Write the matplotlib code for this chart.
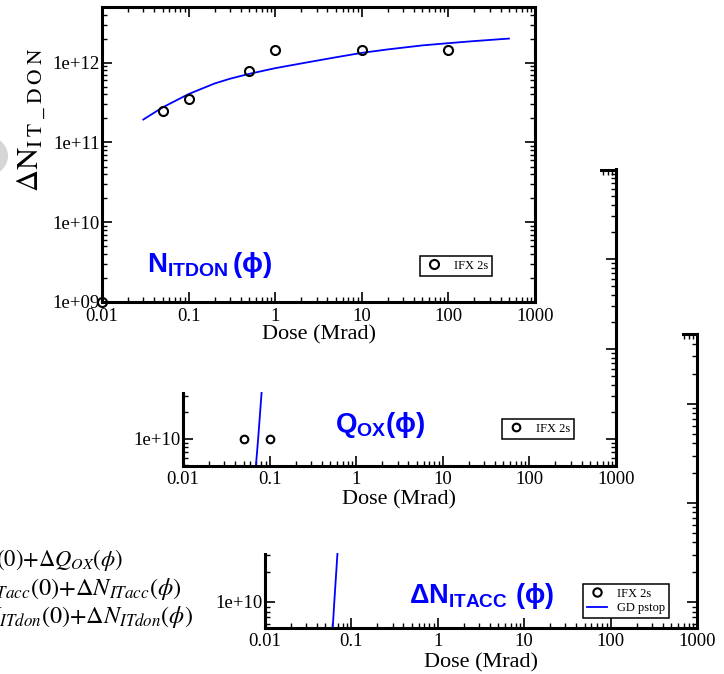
import matplotlib
matplotlib.use('Agg')
import matplotlib.pyplot as plt
import numpy as np
from matplotlib.patches import Rectangle, Ellipse
from matplotlib.ticker import LogLocator, NullFormatter

plt.rcParams['font.family'] = ['Liberation Serif', 'DejaVu Serif']
plt.rcParams['mathtext.fontset'] = 'custom'
plt.rcParams['mathtext.rm'] = 'Liberation Sans:bold'
plt.rcParams['mathtext.it'] = 'Liberation Sans:bold'
plt.rcParams['mathtext.bf'] = 'Liberation Sans:bold'
plt.rcParams['mathtext.sf'] = 'Liberation Sans:bold'
plt.rcParams['mathtext.fallback'] = 'stixsans'

W, H = 724, 674

# ---------------- data ----------------
dose_ticks = [0.01, 0.1, 1, 10, 100, 1000]
dose_tick_labels = ['0.01', '0.1', '1', '10', '100', '1000']

# panel 1 : N_ITDON
nitdon_dose = [0.01, 0.05, 0.1, 0.5, 1, 10, 100]
nitdon_meas = [1e9, 2.5e11, 3.55e11, 7.9e11, 1.43e12, 1.43e12, 1.43e12]
nitdon_fit_dose = [0.03, 0.05, 0.1, 0.2, 0.3, 0.5, 1, 2, 5, 10, 20, 50, 100, 200, 500]
nitdon_fit = [1.94e11, 2.75e11, 4.05e11, 5.5e11, 6.3e11, 7.25e11, 8.55e11, 9.8e11,
              1.17e12, 1.33e12, 1.47e12, 1.65e12, 1.76e12, 1.87e12, 2.01e12]
p1_yticks = [1e9, 1e10, 1e11, 1e12]
p1_ytick_labels = ['1e+09', '1e+10', '1e+11', '1e+12']

# panel 2 : Q_OX
qox_dose = [0.05, 0.1]
qox_meas = [1e10, 1e10]
qox_fit_dose = [0.0695, 0.0738, 0.0809, 0.086]
qox_fit = [5e9, 1e10, 3.3e10, 6e10]
p2_yticks = [1e10, 1e11, 1e12]
p2_ytick_labels = ['1e+10', '1e+11', '1e+12']

# panel 3 : N_ITACC
itacc_fit_dose = [0.0608, 0.0634, 0.0687, 0.072]
itacc_fit = [5.5e9, 1e10, 2.95e10, 5e10]
p3_yticks = [1e10, 1e11, 1e12]
p3_ytick_labels = ['1e+10', '1e+11', '1e+12']

BLUE = '#0000ff'

fig = plt.figure(figsize=(W / 100, H / 100), dpi=100)


def rect(x0, y0, x1, y1):
    return [x0 / W, 1 - y1 / H, (x1 - x0) / W, (y1 - y0) / H]


def cover(x0, y0, x1, y1, z):
    r = Rectangle((x0 / W, 1 - y1 / H), (x1 - x0) / W, (y1 - y0) / H,
                  transform=fig.transFigure, facecolor='white',
                  edgecolor='none', zorder=z)
    fig.add_artist(r)


def style(ax, ylim, yticks, ylabels, label_y):
    ax.set_xscale('log')
    ax.set_yscale('log')
    ax.set_xlim(0.01, 1000)
    ax.set_ylim(*ylim)
    ax.set_xticks(dose_ticks)
    ax.set_xticklabels(dose_tick_labels)
    ax.set_yticks(yticks)
    ax.set_yticklabels(ylabels)
    for a in (ax.xaxis, ax.yaxis):
        a.set_minor_locator(LogLocator(base=10, subs=np.arange(2, 10), numticks=100))
        a.set_minor_formatter(NullFormatter())
    ax.tick_params(which='both', direction='in', top=True, right=True, colors='black')
    ax.tick_params(which='major', length=7, width=1.2, labelsize=13.5)
    ax.tick_params(which='minor', length=3.5, width=1.0)
    ax.tick_params(axis='x', pad=4)
    ax.tick_params(axis='y', pad=1.5)
    for s in ax.spines.values():
        s.set_linewidth(2.2)
    ax.set_xlabel('Dose (Mrad)', fontsize=16)
    ax.xaxis.set_label_coords(0.5, label_y)
    ax.set_facecolor('white')


def legend(ax, x0, y0):
    leg = ax.legend(loc='upper left', bbox_to_anchor=(x0 / W, 1 - y0 / H),
                    bbox_transform=fig.transFigure, frameon=True, fancybox=False,
                    edgecolor='black', framealpha=1, borderpad=0.3,
                    handlelength=1.6, handletextpad=0.8, borderaxespad=0,
                    fontsize=9, labelspacing=0.2)
    leg.get_frame().set_linewidth(1.1)
    return leg


# ---------------- background slide equations ----------------
eq_kw = dict(math_fontfamily='stix', ha='right', va='baseline', zorder=0.5)
fig.text(123 / W, 1 - 566 / H, r'$Q_{OX}(\phi){=}Q_{OX}(0){+}\Delta Q_{OX}(\phi)$',
         fontsize=16.3, **eq_kw)
fig.text(182 / W, 1 - 595 / H, r'$N_{ITacc}(\phi){=}N_{ITacc}(0){+}\Delta N_{ITacc}(\phi)$',
         fontsize=17.6, **eq_kw)
fig.text(193 / W, 1 - 623 / H, r'$N_{ITdon}(\phi){=}N_{ITdon}(0){+}\Delta N_{ITdon}(\phi)$',
         fontsize=17.4, **eq_kw)

# ---------------- panel 3 (back) ----------------
ax3 = fig.add_axes(rect(265, 334.5, 697, 627.7))
ax3.set_zorder(1)
ax3.plot([], [], 'o', mfc='none', mec='black', mew=1.5, ms=6, label='IFX 2s')
ax3.plot(itacc_fit_dose, itacc_fit, '-', color=BLUE, lw=1.3, label='GD pstop')
style(ax3, (5.5e9, 5e12), p3_yticks, p3_ytick_labels, -0.088)
ax3.text((409 - 265) / 432, (627.7 - 603) / 293, r'$\mathrm{\Delta N_{ITACC}\ (\phi)}$',
         color=BLUE, fontsize=19.5, math_fontfamily='custom', transform=ax3.transAxes,
         ha='left', va='baseline')
legend(ax3, 583, 584)

cover(130, 150, 682, 553, 2)

# ---------------- panel 2 (middle) ----------------
ax2 = fig.add_axes(rect(183, 169.5, 616, 465.5))
ax2.set_zorder(3)
ax2.plot(qox_dose, qox_meas, 'o', mfc='none', mec='black', mew=1.5, ms=5.5, label='IFX 2s')
ax2.plot(qox_fit_dose, qox_fit, '-', color=BLUE, lw=1.3)
style(ax2, (5e9, 1e13), p2_yticks, p2_ytick_labels, -0.083)
ax2.text((335 - 183) / 433, (465.5 - 432) / 296, r'$\mathrm{Q_{OX}(\phi)}$',
         color=BLUE, fontsize=20, math_fontfamily='custom', transform=ax2.transAxes,
         ha='left', va='baseline')
legend(ax2, 502, 419)

cover(10, 0, 600, 392, 4)

# ---------------- panel 1 (front) ----------------
ax1 = fig.add_axes(rect(102, 7, 535, 302))
ax1.set_zorder(5)
ax1.plot(nitdon_fit_dose, nitdon_fit, '-', color=BLUE, lw=1.3)
ax1.plot(nitdon_dose, nitdon_meas, 'o', mfc='none', mec='black', mew=1.5, ms=6.5,
         label='IFX 2s', clip_on=False, zorder=5)
style(ax1, (1e9, 5e12), p1_yticks, p1_ytick_labels, -0.08)
ax1.text((32 - 102) / 433, (302 - 120) / 295, r'$\Delta\mathrm{N}_{\mathrm{I\;T\;\_\;D\;O\;N}}$',
         rotation=90, fontsize=22, math_fontfamily='stix', transform=ax1.transAxes,
         ha='center', va='center')
ax1.text((147 - 102) / 433, (302 - 272) / 295, r'$\mathrm{N_{ITDON}\,(\phi)}$',
         color=BLUE, fontsize=20, math_fontfamily='custom', transform=ax1.transAxes,
         ha='left', va='baseline')
legend(ax1, 420, 256)

# gray blob at left edge
fig.add_artist(Ellipse((-14 / W, 1 - 156 / H), 44 / W, 40 / H, transform=fig.transFigure,
                       facecolor='#d6d6d6', edgecolor='none', zorder=6))

fig.savefig('out.png', dpi=100, facecolor='white')
